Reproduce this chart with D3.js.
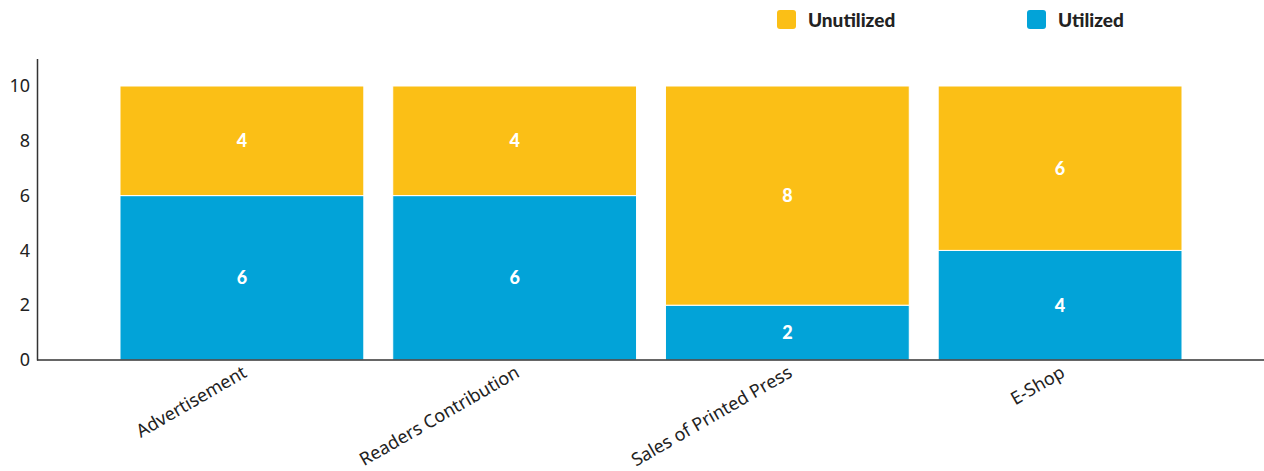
<!DOCTYPE html>
<html>
<head>
<meta charset="utf-8">
<script src="https://cdn.jsdelivr.net/npm/d3@7"></script>
<style>
  body { margin: 0; background: #fff; }
  svg { display: block; }
</style>
</head>
<body>
<div id="chart"></div>
<script>
// chart data
const categories = ["Advertisement", "Readers Contribution", "Sales of Printed Press", "E-Shop"];
const utilized = [6, 6, 2, 4];
const unutilized = [4, 4, 8, 6];
const seriesNames = ["Utilized", "Unutilized"];
const yTicks = [0, 2, 4, 6, 8, 10];

const width = 1264, height = 471;
const colors = { Utilized: "#02a3d8", Unutilized: "#fbbf16" };

const svg = d3.select("#chart").append("svg")
    .attr("width", width)
    .attr("height", height);

let rows = categories.map((c, i) => ({ category: c, Utilized: utilized[i], Unutilized: unutilized[i] }));
let stacked = d3.stack().keys(seriesNames)(rows);

// scales
let x = d3.scaleBand()
    .domain(categories)
    .range([120, 1182])
    .paddingInner(0.106)
    .paddingOuter(0);

let y = d3.scaleLinear()
    .domain([0, 11])
    .range([360, 58.6]);

// bars
svg.append("g").selectAll("g")
    .data(stacked)
    .join("g")
    .attr("fill", d => colors[d.key])
    .selectAll("rect")
    .data(d => d)
    .join("rect")
    .attr("x", d => x(d.data.category))
    .attr("y", d => y(d[1]))
    .attr("width", x.bandwidth())
    .attr("height", d => y(d[0]) - y(d[1]))
    .attr("stroke", "#fff")
    .attr("stroke-width", 1);

// value labels
svg.append("g").selectAll("g")
    .data(stacked)
    .join("g")
    .selectAll("text")
    .data(d => d)
    .join("text")
    .attr("x", d => x(d.data.category) + x.bandwidth() / 2)
    .attr("y", d => (y(d[0]) + y(d[1])) / 2)
    .attr("dy", "0.35em")
    .attr("text-anchor", "middle")
    .attr("fill", "#fff")
    .style("font-family", "Lato, sans-serif")
    .style("font-weight", "900")
    .style("font-size", "18px")
    .text(d => d[1] - d[0]);

// y axis
let yAxis = svg.append("g")
    .attr("transform", "translate(37,0)")
    .call(d3.axisLeft(y).tickValues(yTicks).tickSize(0).tickPadding(7));
yAxis.select(".domain").attr("stroke", "#333").attr("stroke-width", 1.5);
yAxis.selectAll("text")
    .style("font-family", "'Noto Sans', sans-serif")
    .style("font-size", "18px")
    .attr("fill", "#222");

// x axis
let xAxis = svg.append("g")
    .attr("transform", "translate(0,360)")
    .call(d3.axisBottom(x).tickSize(0).tickPadding(0));
xAxis.select(".domain")
    .attr("d", `M37,0H${width}`)
    .attr("stroke", "#333")
    .attr("stroke-width", 1.5);
xAxis.selectAll("text")
    .style("font-family", "'Noto Sans', sans-serif")
    .style("font-size", "18px")
    .attr("fill", "#222")
    .attr("text-anchor", "end")
    .attr("dy", "0")
    .attr("transform", "translate(6,16) rotate(-30)");

// legend
const legendItems = [
    { name: "Unutilized", x: 777 },
    { name: "Utilized", x: 1027 }
];
let legend = svg.append("g").selectAll("g")
    .data(legendItems)
    .join("g")
    .attr("transform", d => `translate(${d.x},10)`);
legend.append("rect")
    .attr("width", 19)
    .attr("height", 19)
    .attr("rx", 3)
    .attr("fill", d => colors[d.name]);
legend.append("text")
    .attr("x", 31)
    .attr("y", 10)
    .attr("dy", "0.35em")
    .style("font-family", "Lato, sans-serif")
    .style("font-weight", "900")
    .style("font-size", "19px")
    .attr("fill", "#222")
    .text(d => d.name);
</script>
</body>
</html>
